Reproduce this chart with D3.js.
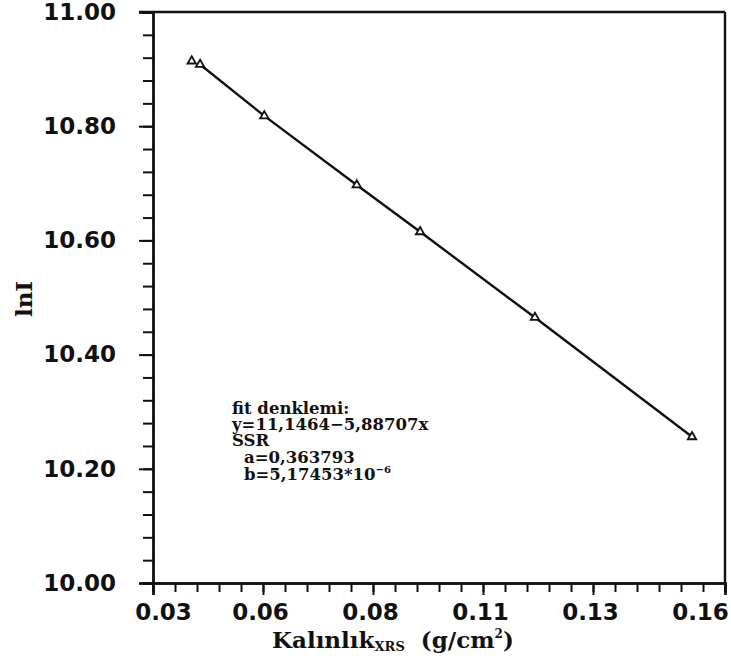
<!DOCTYPE html>
<html>
<head>
<meta charset="utf-8">
<script src="https://cdn.jsdelivr.net/npm/d3@7"></script>
<style>
  body { margin: 0; background: #fff; }
  svg { display: block; }
  .tick text { font-family: "DejaVu Sans", sans-serif; font-weight: bold; font-size: 23px; fill: #111; }
  .ann, .title { font-family: "DejaVu Serif", serif; font-weight: bold; fill: #111; }
</style>
</head>
<body>
<div id="chart"></div>
<script>
// measured points (thickness g/cm2, lnI)
var thickness = [0.0388, 0.0407, 0.0553, 0.0763, 0.0907, 0.1168, 0.1525];
var lnI = [10.914, 10.908, 10.818, 10.697, 10.615, 10.465, 10.256];

var xTickValues = [0.03, 0.055, 0.08, 0.105, 0.13, 0.16];
var xTickLabels = ["0.03", "0.06", "0.08", "0.11", "0.13", "0.16"];
var yTickValues = [10.0, 10.2, 10.4, 10.6, 10.8, 11.0];
var yTickLabels = ["10.00", "10.20", "10.40", "10.60", "10.80", "11.00"];

var w = 731, h = 666;
var pLeft = 153, pRight = 725, pTop = 12, pBottom = 583;

var svg = d3.select("#chart").append("svg")
    .attr("width", w)
    .attr("height", h);

var x = d3.scaleLinear().domain([0.03, 0.16]).range([pLeft, pRight]);
var y = d3.scaleLinear().domain([10, 11]).range([pBottom, pTop]);

// minor ticks
var xMinor = d3.range(0, 27).map(function(i) { return 0.03 + i * 0.005; });
var yMinor = d3.range(0, 26).map(function(i) { return 10 + i * 0.04; });

svg.append("g")
   .attr("transform", "translate(0," + pBottom + ")")
   .call(d3.axisBottom(x).tickValues(xMinor).tickSize(9).tickFormat(""));
svg.append("g")
   .attr("transform", "translate(" + pLeft + ",0)")
   .call(d3.axisLeft(y).tickValues(yMinor).tickSize(10).tickFormat(""));

var xAxis = svg.append("g")
   .attr("transform", "translate(0," + pBottom + ")")
   .call(d3.axisBottom(x).tickValues(xTickValues).tickSize(12).tickPadding(9)
         .tickFormat(function(d, i) { return xTickLabels[i]; }));
xAxis.selectAll(".tick text")
   .attr("dx", function(d, i) { return i == 0 ? 10 : (i == xTickValues.length - 1 ? -25 : -3); });

svg.append("g")
   .attr("transform", "translate(" + pLeft + ",0)")
   .call(d3.axisLeft(y).tickValues(yTickValues).tickSize(14).tickPadding(23)
         .tickFormat(function(d, i) { return yTickLabels[i]; }));

svg.selectAll(".domain").attr("stroke-width", 2.4).attr("stroke", "#111");
svg.selectAll(".tick line").attr("stroke-width", 2).attr("stroke", "#111");

// frame top / right
svg.append("line").attr("x1", pLeft - 14).attr("x2", pRight).attr("y1", pTop).attr("y2", pTop)
   .attr("stroke", "#111").attr("stroke-width", 2.4);
svg.append("line").attr("x1", pRight).attr("x2", pRight).attr("y1", pTop).attr("y2", pBottom)
   .attr("stroke", "#111").attr("stroke-width", 2.4);

// line through points
var pts = thickness.map(function(d, i) { return [d, lnI[i]]; });
svg.append("path")
   .datum(pts.slice(1))
   .attr("fill", "none")
   .attr("stroke", "#111")
   .attr("stroke-width", 2.4)
   .attr("d", d3.line().x(function(d) { return x(d[0]); }).y(function(d) { return y(d[1]); }));

svg.selectAll(".pt")
   .data(pts)
   .enter()
   .append("path")
   .attr("class", "pt")
   .attr("transform", function(d) { return "translate(" + x(d[0]) + "," + y(d[1]) + ")"; })
   .attr("d", d3.symbol().type(d3.symbolTriangle).size(30))
   .attr("fill", "#fff")
   .attr("stroke", "#111")
   .attr("stroke-width", 1.8);

// annotation
function annLine(tx, ty, txt) {
    return svg.append("text").attr("class", "ann").attr("font-size", 16.5)
        .attr("x", tx).attr("y", ty).text(txt);
}
annLine(232, 414, "fit  denklemi:");
annLine(232, 430, "y=11,1464\u22125,88707x");
annLine(232, 446, "SSR");
annLine(244, 463, "a=0,363793");
annLine(244, 480, "b=5,17453*10")
   .append("tspan").attr("dy", -7).attr("font-size", 10).text("\u22126");

// axis titles
var xt = svg.append("text").attr("class", "title").attr("font-size", 23)
   .attr("x", 272).attr("y", 648);
xt.append("tspan").text("Kal\u0131nl\u0131k");
xt.append("tspan").attr("font-size", 13).attr("dy", 3).text("XRS");
xt.append("tspan").attr("dy", -3).text("\u00a0 (g/cm");
xt.append("tspan").attr("font-size", 12).attr("dy", -10).text("2");
xt.append("tspan").attr("dy", 10).text(")");

svg.append("text").attr("class", "title").attr("font-size", 23)
   .attr("transform", "translate(32,299) rotate(-90)")
   .attr("text-anchor", "middle")
   .text("lnI");
</script>
</body>
</html>
